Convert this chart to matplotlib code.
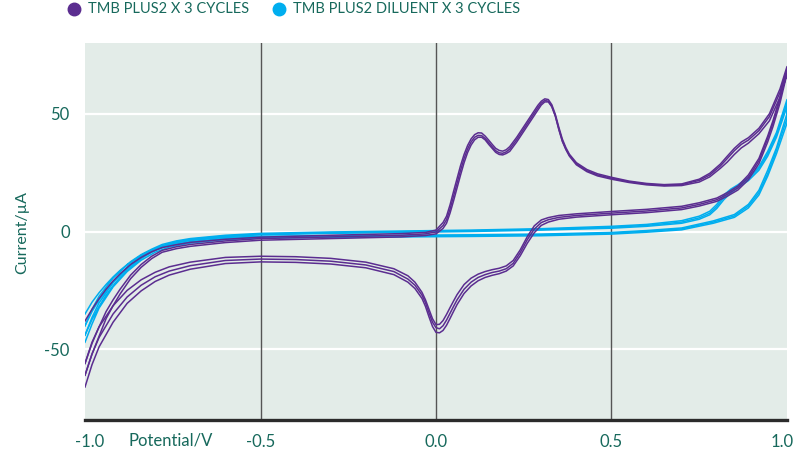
import matplotlib
matplotlib.use("Agg")
import matplotlib.pyplot as plt
from matplotlib.lines import Line2D
from matplotlib.transforms import ScaledTranslation

plt.rcParams['font.family'] = ['Lato', 'DejaVu Sans']

# ---- data (potential in V, current in uA) ----
# TMB PLUS2, forward sweeps (-1 -> 1)
tmb_v_fwd = [-1.0, -0.98, -0.96, -0.94, -0.92, -0.9, -0.87, -0.84, -0.81, -0.78,
             -0.74, -0.7, -0.6, -0.5, -0.3, -0.1, -0.03, 0.0, 0.02, 0.03,
             0.04, 0.05, 0.06, 0.07, 0.08, 0.09, 0.10, 0.11, 0.12, 0.13,
             0.14, 0.15, 0.16, 0.17, 0.18, 0.19, 0.20, 0.21, 0.23, 0.25,
             0.27, 0.29, 0.30, 0.31, 0.32, 0.33, 0.34, 0.35, 0.36, 0.37,
             0.38, 0.40, 0.43, 0.46, 0.5, 0.55, 0.6, 0.65, 0.7, 0.75,
             0.78, 0.81, 0.83, 0.85, 0.87, 0.89, 0.92, 0.95, 0.98, 1.0]
tmb_fwd_1 = [-38, -33, -28.5, -24.5, -21, -18, -14, -11, -8.6, -6.8,
             -5.6, -4.6, -3.3, -2.4, -1.6, -0.9, -0.4, 0.6, 3.8, 6.5,
             11.3, 17, 22.5, 28, 32.7, 36.5, 39.3, 41.1, 41.9, 41.8,
             40.5, 38.8, 37, 35.3, 34.4, 34.1, 34.7, 36, 40, 44.5,
             49, 53.5, 55.3, 56.3, 56, 53.8, 49.7, 44.2, 39.2, 35.6,
             32.8, 29.2, 26.3, 24.5, 23, 21.4, 20.4, 19.9, 20.2, 22.2,
             24.7, 28.6, 32, 35.3, 38, 39.8, 43.8, 50, 60.5, 70]
tmb_fwd_2 = [-56, -47.5, -40.5, -34, -29, -24.5, -18.5, -14, -10.5, -8,
             -6.5, -5.5, -4, -3, -2.3, -1.6, -1.0, -0.2, 2.5, 5,
             9.5, 15, 20.5, 26, 31, 35, 38, 40, 40.8, 40.7,
             39.5, 37.8, 36, 34.3, 33.4, 33.2, 33.8, 35, 39, 43.5,
             48, 52.5, 54.5, 55.6, 55.3, 53, 49, 43.5, 38.5, 35,
             32.3, 28.7, 25.8, 24, 22.6, 21.1, 20.1, 19.6, 19.9, 21.7,
             24, 27.8, 31, 34.3, 37, 38.8, 42.8, 48.8, 59, 69]
tmb_fwd_3 = [-61, -52, -44.5, -37, -31.5, -26.5, -20, -15.2, -11.5, -8.8,
             -7.3, -6.3, -4.7, -3.7, -3, -2.3, -1.7, -1.0, 1.3, 3.5,
             7.8, 13, 18.5, 24, 29.2, 33.5, 36.7, 38.9, 40, 40,
             38.9, 37, 35.3, 33.6, 32.7, 32.5, 33.1, 34, 38, 42.5,
             47, 51.5, 53.7, 55, 55, 53, 49, 43.2, 38.2, 34.8,
             32, 28.3, 25.4, 23.6, 22.2, 20.8, 19.8, 19.3, 19.5, 21,
             23.2, 26.8, 29.5, 32.7, 35.5, 37.5, 41.5, 47, 57, 67]

# TMB PLUS2, reverse sweeps (1 -> -1)
tmb_v_rev = [1.0, 0.98, 0.96, 0.945, 0.92, 0.89, 0.86, 0.83, 0.8, 0.75,
             0.7, 0.6, 0.5, 0.4, 0.35, 0.32, 0.3, 0.28, 0.26, 0.24,
             0.22, 0.2, 0.18, 0.16, 0.14, 0.12, 0.1, 0.08, 0.06, 0.05,
             0.04, 0.03, 0.02, 0.01, 0.0, -0.01, -0.02, -0.03, -0.04, -0.06,
             -0.08, -0.12, -0.2, -0.3, -0.4, -0.5, -0.6, -0.7, -0.76, -0.8,
             -0.84, -0.88, -0.92, -0.96, -0.98, -1.0]
tmb_rev_1 = [70, 57, 47, 40.5, 31, 24, 19.3, 16.5, 14.2, 12.2,
             10.7, 9.4, 8.5, 7.5, 6.8, 5.9, 4.9, 2.4, -2.2, -7.8,
             -12.3, -14.6, -15.6, -16.2, -17.0, -18.1, -19.8, -22.5, -26.8, -29.5,
             -32.3, -35.2, -37.8, -39.4, -39.5, -37, -33, -29, -25.8, -21.5,
             -18.8, -15.8, -13, -11.4, -10.7, -10.5, -11, -13, -15, -17.3,
             -20.5, -25, -31.5, -40.5, -47, -56]
tmb_rev_2 = [69, 56, 46, 39.5, 30, 23, 18.5, 15.8, 13.5, 11.5,
             10, 8.7, 7.8, 6.8, 6.0, 5.0, 3.8, 1.0, -3.5, -9,
             -13.5, -15.8, -16.8, -17.4, -18.3, -19.5, -21.5, -24.5, -29, -31.8,
             -34.7, -37.6, -40, -41.3, -40.8, -38.5, -34.5, -30.2, -27, -22.8,
             -20.2, -17, -14.2, -12.6, -11.9, -11.7, -12.3, -14.5, -16.8, -19.2,
             -22.8, -27.8, -35, -45, -52, -61]
tmb_rev_3 = [67, 54.5, 44.5, 38, 28.8, 22, 17.6, 15, 12.8, 10.8,
             9.3, 8.0, 7.1, 6.1, 5.2, 4.0, 2.6, -0.5, -5, -10.3,
             -14.6, -16.8, -17.9, -18.6, -19.5, -20.9, -23.1, -26.3, -31, -33.9,
             -36.9, -39.8, -42, -43, -42.8, -40.3, -36.2, -31.8, -28.4, -24.2,
             -21.5, -18.3, -15.4, -13.8, -13.1, -12.9, -13.6, -16, -18.5, -21.2,
             -25.2, -30.5, -38.5, -49, -56.5, -66]

# TMB PLUS2 DILUENT
dil_v_fwd = [-1.0, -0.98, -0.96, -0.94, -0.92, -0.9, -0.87, -0.84, -0.81, -0.78,
             -0.74, -0.7, -0.6, -0.5, -0.3, -0.1, 0.1, 0.3, 0.5, 0.6,
             0.7, 0.75, 0.78, 0.8, 0.82, 0.84, 0.86, 0.89, 0.92, 0.945,
             0.97, 1.0]
dil_fwd_1 = [-35, -30, -26, -22.5, -19.3, -16.5, -12.8, -9.8, -7.5, -5.5,
             -4, -3, -1.6, -0.8, -0.2, 0.2, 0.6, 1.2, 2.2, 3.0,
             4.6, 6.5, 8.6, 11.5, 15.5, 18, 19.8, 23, 27.5, 34,
             42, 56]
dil_fwd_2 = [-40, -34, -29, -25, -21.3, -18, -13.9, -10.6, -8.1, -6,
             -4.4, -3.3, -1.9, -1.1, -0.5, -0.1, 0.3, 0.9, 1.8, 2.6,
             4, 5.8, 7.8, 10.6, 14.5, 17.2, 19.2, 22.3, 26.8, 33,
             41, 54.5]
dil_fwd_3 = [-44, -37.3, -31.8, -27, -23, -19.5, -15, -11.4, -8.7, -6.5,
             -4.8, -3.6, -2.2, -1.4, -0.8, -0.4, 0, 0.6, 1.4, 2.2,
             3.5, 5.2, 7.1, 9.8, 13.5, 16.4, 18.5, 21.6, 26, 32,
             40, 53]

dil_v_rev = [1.0, 0.97, 0.945, 0.92, 0.89, 0.85, 0.79, 0.7, 0.6, 0.5,
             0.3, 0.1, -0.1, -0.3, -0.5, -0.6, -0.7, -0.76, -0.8, -0.84,
             -0.88, -0.92, -0.96, -0.98, -1.0]
dil_rev_1 = [50, 35.5, 26, 17.5, 11.5, 7.2, 4.5, 1.5, 0.4, -0.4,
             -1.1, -1.4, -1.6, -1.8, -2.0, -2.5, -3.8, -5.4, -7.3, -10.2,
             -14.2, -19.8, -27.5, -33, -40]
dil_rev_2 = [48, 34.5, 24.5, 16.5, 10.8, 6.6, 4, 1.1, 0.1, -0.7,
             -1.4, -1.7, -1.9, -2.1, -2.4, -2.9, -4.3, -5.9, -8, -11.2,
             -15.6, -21.8, -30.3, -36.5, -44]
dil_rev_3 = [46, 33, 23.5, 15.5, 10, 6, 3.5, 0.7, -0.3, -1.1,
             -1.8, -2.1, -2.3, -2.5, -2.8, -3.4, -4.9, -6.6, -8.8, -12.2,
             -17, -23.5, -32.5, -39.3, -47]

x_ticks = [-1.0, -0.5, 0.0, 0.5, 1.0]
x_labels = ['-1.0', '-0.5', '0.0', '0.5', '1.0']
y_ticks = [-50, 0, 50]
y_labels = ['-50', '0', '50']

purple = '#5B2D90'
blue = '#00AEEF'
teal = '#17695C'

fig = plt.figure(figsize=(8, 4.5), dpi=100)
ax = fig.add_axes([85 / 800, 30 / 450, 702 / 800, 377 / 450])
ax.set_facecolor('#E3ECE8')

for y in y_ticks:
    ax.axhline(y, color='white', lw=1.6, zorder=1)
for x in [-0.5, 0.0, 0.5]:
    ax.axvline(x, color='#555555', lw=1.0, zorder=1)

# diluent first, then TMB on top
for fwd, rev in [(dil_fwd_1, dil_rev_1), (dil_fwd_2, dil_rev_2), (dil_fwd_3, dil_rev_3)]:
    ax.plot(dil_v_fwd + dil_v_rev, fwd + rev, color=blue, lw=1.1, zorder=2,
            solid_joinstyle='round')
for fwd, rev in [(tmb_fwd_1, tmb_rev_1), (tmb_fwd_2, tmb_rev_2), (tmb_fwd_3, tmb_rev_3)]:
    ax.plot(tmb_v_fwd + tmb_v_rev, fwd + rev, color=purple, lw=1.1, zorder=3,
            solid_joinstyle='round')

ax.set_xlim(-1, 1)
ax.set_ylim(-80, 80)
ax.set_xticks(x_ticks)
ax.set_xticklabels(x_labels)
ax.set_yticks(y_ticks)
ax.set_yticklabels(y_labels)
ax.tick_params(length=0, labelsize=12, labelcolor=teal)
ax.tick_params(axis='x', pad=10)
ax.tick_params(axis='y', pad=11)
for s in ['top', 'right', 'left']:
    ax.spines[s].set_visible(False)
ax.spines['bottom'].set_color('#2b2b2b')
ax.spines['bottom'].set_linewidth(2.4)

# end labels sit a little inside the axis ends
xl = ax.get_xticklabels()
xl[0].set_transform(xl[0].get_transform() + ScaledTranslation(5 / 100, 0, fig.dpi_scale_trans))
xl[-1].set_transform(xl[-1].get_transform() + ScaledTranslation(-5 / 100, 0, fig.dpi_scale_trans))

fig.text(128 / 800, 1 - 440 / 450, 'Potential/V', color=teal, fontsize=12,
         va='center', ha='left')
fig.text(22 / 800, 1 - 232 / 450, 'Current/µA', color=teal, fontsize=11.5,
         va='center', ha='center', rotation=90)

# legend across the top
for cx, tx, col, lab in [(74, 88, purple, 'TMB PLUS2 X 3 CYCLES'),
                         (279, 293, blue, 'TMB PLUS2 DILUENT X 3 CYCLES')]:
    fig.add_artist(Line2D([cx / 800], [1 - 9 / 450], marker='o', markersize=9,
                          color=col, transform=fig.transFigure))
    fig.text(tx / 800, 1 - 9 / 450, lab, color=teal, fontsize=10.5,
             va='center', ha='left')

fig.savefig('out.png', dpi=100, facecolor='white')
